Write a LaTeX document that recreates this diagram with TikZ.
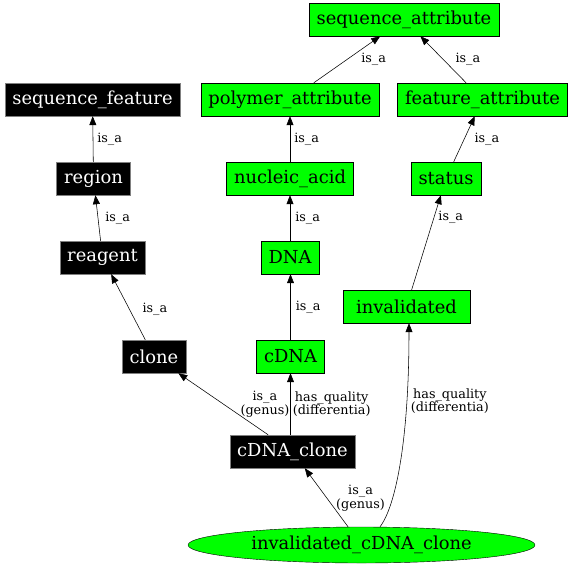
\documentclass[tikz,border=0pt]{standalone}
\usepackage{fontspec}
\setmainfont{DejaVu Serif}
\usetikzlibrary{arrows.meta,shapes.geometric}

\tikzset{
	term/.style={draw=black, fill=green, text=black, font=\fontsize{17.9}{20}\selectfont, inner xsep=7.5pt, inner ysep=0pt, minimum height=33pt},
	dark/.style={term, fill=black, draw=gray, text=white},
	rel/.style={-{Triangle[length=9pt, width=7pt]}, line width=0.55pt},
	lbl/.style={font=\fontsize{12.8}{13.6}\selectfont, inner sep=0pt, anchor=west, align=center}
}

\begin{document}
\begin{tikzpicture}[x=1pt, y=-1pt]
	\useasboundingbox (0,0) rectangle (576,568);

	\node[term] (seqattr) at (404.0, 19.5) {sequence\_attribute}; % top
	\node[dark] (seqfeat) at (92.5, 99.5) {sequence\_feature};
	\node[term] (polyattr) at (290.0, 99.5) {polymer\_attribute};
	\node[term] (featattr) at (482.5, 99.5) {feature\_attribute};
	\node[dark] (region) at (93.5, 178.5) {region};
	\node[term] (nucacid) at (290.0, 178.5) {nucleic\_acid};
	\node[term] (status) at (446.0, 178.5) {status};
	\node[dark] (reagent) at (102.5, 257.5) {reagent};
	\node[term] (dna) at (290.0, 257.5) {DNA};
	\node[term, minimum width=127pt] (inval) at (406.5, 306.5) {invalidated};
	\node[dark, minimum width=64pt] (clone) at (154.0, 356.5) {clone};
	\node[term] (cdna) at (290.5, 356.5) {cDNA};
	\node[dark] (cdnaclone) at (292.5, 451.5) {cDNA\_clone};
	\node[term, ellipse, minimum width=347pt, minimum height=36pt] (invcdna) at (361.5, 545.0) {invalidated\_cDNA\_clone}; % bottom

	\draw[rel] (polyattr) -- node[lbl, xshift=14pt] {is\_a} (seqattr);
	\draw[rel] (featattr) -- node[lbl, xshift=12pt] {is\_a} (seqattr);
	\draw[rel] (region) -- node[lbl, xshift=4pt] {is\_a} (seqfeat);
	\draw[rel] (nucacid) -- node[lbl, xshift=4pt] {is\_a} (polyattr);
	\draw[rel] (status) -- node[lbl, xshift=10pt] {is\_a} (featattr);
	\draw[rel] (reagent) -- node[lbl, xshift=7pt] {is\_a} (region);
	\draw[rel] (dna) -- node[lbl, xshift=5pt] {is\_a} (nucacid);
	\draw[rel] (inval) -- node[lbl, pos=0.77, xshift=4pt] {is\_a} (status);
	\draw[rel] (clone) -- node[lbl, pos=0.47, xshift=13pt] {is\_a} (reagent);
	\draw[rel] (cdna) -- node[lbl, xshift=5pt] {is\_a} (cdna |- dna.south);
	\draw[rel] (cdnaclone) -- node[lbl, xshift=17pt] {is\_a\\(genus)} (clone);
	\draw[rel] (cdnaclone.north -| cdna.south) -- node[lbl, xshift=2pt] {has\_quality\\(differentia)} (cdna);
	\draw[rel] (invcdna) -- node[lbl, pos=0.49, xshift=9pt] {is\_a\\(genus)} (cdnaclone);
	\draw[rel] ([xshift=18.5pt]invcdna.north) .. controls +(16,-21) and +(0,116) .. node[lbl, pos=0.75, xshift=4pt] {has\_quality\\(differentia)} ([xshift=2.5pt]inval.south);
\end{tikzpicture}
\end{document}
